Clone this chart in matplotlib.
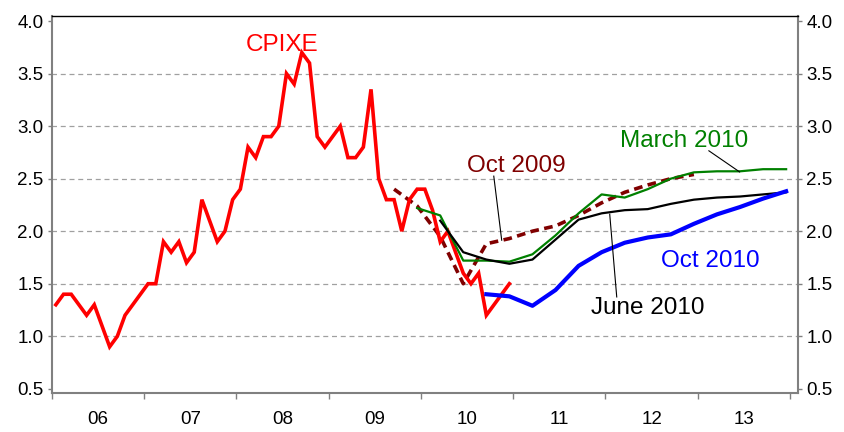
import numpy as np
import matplotlib
matplotlib.use('Agg')
import matplotlib.pyplot as plt

plt.rcParams['font.family'] = ['Liberation Sans', 'DejaVu Sans']

# CPIXE, monthly 2006M1 - 2010M12
cpixe = [1.3, 1.4, 1.4, 1.3, 1.2, 1.3, 1.1, 0.9, 1.0, 1.2, 1.3, 1.4,
         1.5, 1.5, 1.9, 1.8, 1.9, 1.7, 1.8, 2.3, 2.1, 1.9, 2.0, 2.3,
         2.4, 2.8, 2.7, 2.9, 2.9, 3.0, 3.5, 3.4, 3.7, 3.6, 2.9, 2.8,
         2.9, 3.0, 2.7, 2.7, 2.8, 3.35, 2.5, 2.3, 2.3, 2.0, 2.3, 2.4,
         2.4, 2.2, 1.9, 2.0, 1.8, 1.6, 1.5, 1.6, 1.2, 1.3, 1.4, 1.5]

# forecasts, quarterly (first quarter given as (year, quarter))
oct2009_start = (2009, 3)
oct2009 = [2.40, 2.24, 1.95, 1.50, 1.88, 1.93, 2.00, 2.05, 2.15, 2.27,
           2.37, 2.44, 2.50, 2.54]
mar2010_start = (2009, 4)
mar2010 = [2.22, 2.15, 1.72, 1.72, 1.71, 1.78, 1.96, 2.17, 2.35, 2.32,
           2.40, 2.50, 2.56, 2.57, 2.57, 2.59, 2.59]
jun2010_start = (2010, 1)
jun2010 = [2.10, 1.80, 1.73, 1.69, 1.73, 1.92, 2.11, 2.17, 2.20, 2.21,
           2.26, 2.30, 2.32, 2.33, 2.35, 2.37]
oct2010_start = (2010, 3)
oct2010 = [1.40, 1.38, 1.29, 1.44, 1.67, 1.80, 1.89, 1.94, 1.97, 2.07,
           2.16, 2.23, 2.31, 2.38]

years = list(range(2006, 2015))
year_labels = ['06', '07', '08', '09', '10', '11', '12', '13']
y_ticks = [0.5, 1.0, 1.5, 2.0, 2.5, 3.0, 3.5, 4.0]
grid_levels = [1.0, 1.5, 2.0, 2.5, 3.0, 3.5]


def monthly_x(n, year=2006, month=1):
    k = np.arange(n) + (month - 1)
    return year + (k + 0.5) / 12.0


def quarterly_x(n, start):
    year, q = start
    k = np.arange(n) * 3 + (q * 3 - 1)
    return year + (k + 0.5) / 12.0


fig = plt.figure(figsize=(8.44, 4.32), dpi=100)
ax = fig.add_axes([52 / 844, 1 - 393 / 432, 746 / 844, 377 / 432])

ax.hlines(grid_levels, 2005, 2015, colors='#a0a0a0', linestyles=(0, (4, 3)),
          linewidth=0.9, zorder=0)

ax.plot(monthly_x(len(cpixe)), cpixe, color='#ff0000', lw=2.6,
        solid_joinstyle='miter', zorder=3)
ax.plot(quarterly_x(len(oct2009), oct2009_start), oct2009, color='#800000',
        lw=2.6, dashes=(2.4, 1.5), zorder=2)
ax.plot(quarterly_x(len(mar2010), mar2010_start), mar2010, color='#008000',
        lw=1.6, zorder=4)
ax.plot(quarterly_x(len(jun2010), jun2010_start), jun2010, color='black',
        lw=1.6, zorder=4)
ax.plot(quarterly_x(len(oct2010), oct2010_start), oct2010, color='#0000ff',
        lw=3.0, zorder=4)

# labels and leader lines
fs = 17.5
ax.text(2008.49, 3.714, 'CPIXE', color='#ff0000', fontsize=fs, ha='center', va='baseline')
ax.text(2011.03, 2.562, 'Oct 2009', color='#800000', fontsize=fs, ha='center', va='baseline')
ax.text(2012.855, 2.803, 'March 2010', color='#008000', fontsize=fs, ha='center', va='baseline')
ax.text(2012.46, 1.21, 'June 2010', color='black', fontsize=fs, ha='center', va='baseline')
ax.text(2013.14, 1.66, 'Oct 2010', color='#0000ff', fontsize=fs, ha='center', va='baseline')
ax.plot([2010.789, 2010.875], [2.524, 1.914], color='black', lw=0.8, zorder=5)
ax.plot([2013.121, 2013.454], [2.765, 2.564], color='black', lw=0.8, zorder=5)
ax.plot([2012.046, 2012.122], [2.162, 1.374], color='black', lw=0.8, zorder=5)

ax.set_xlim(2006.0, 2014.087)
ax.set_ylim(0.46, 4.048)

ax.set_xticks(years)
ax.set_xticklabels([])
ax.set_xticks([y + 0.5 for y in years[:-1]], minor=True)
ax.set_xticklabels(year_labels, minor=True)
ax.tick_params(axis='x', which='major', direction='out', length=4, width=1,
               color='#808080')
ax.tick_params(axis='x', which='minor', length=0, pad=13, labelsize=13.5)

ax.set_yticks(y_ticks)
ax.set_yticklabels(['%.1f' % v for v in y_ticks])
ax.tick_params(axis='y', which='both', direction='out', length=3, width=1,
               color='#808080', labelsize=13.5, left=True, right=True,
               labelleft=True, labelright=True, pad=3)

for side in ['left', 'bottom', 'right']:
    ax.spines[side].set_color('#808080')
    ax.spines[side].set_linewidth(1.5)
ax.spines['top'].set_color('black')
ax.spines['top'].set_linewidth(1.0)

fig.savefig('out.png', dpi=100)
